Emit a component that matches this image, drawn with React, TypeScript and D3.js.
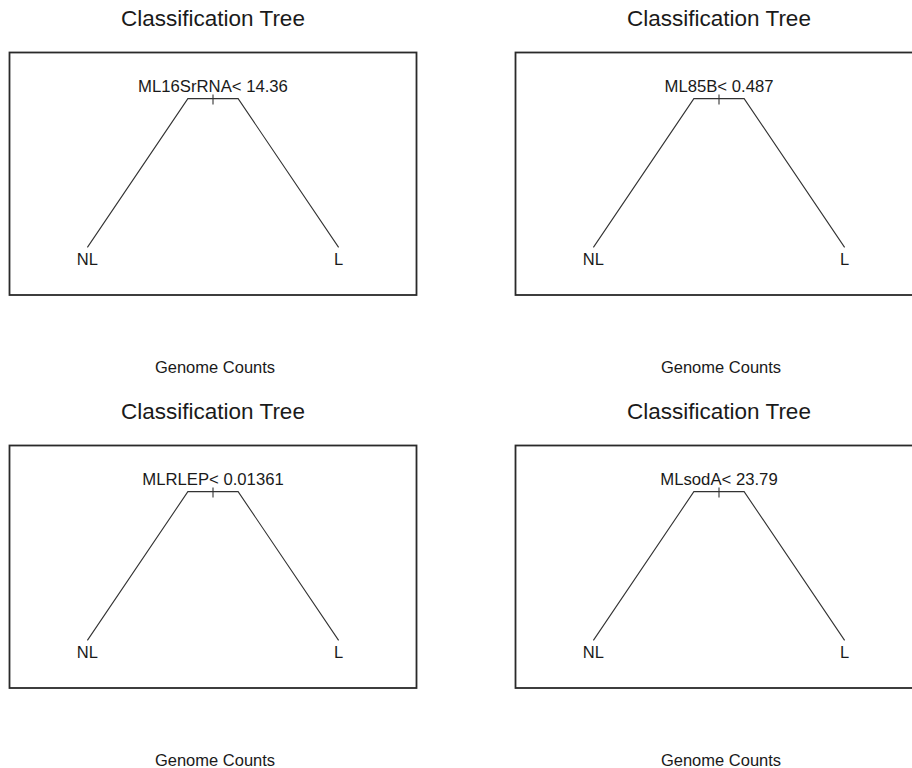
import React from "react";
import * as d3 from "d3";

const titles = ["Classification Tree", "Classification Tree", "Classification Tree", "Classification Tree"];
const splitVars = ["ML16SrRNA", "ML85B", "MLRLEP", "MLsodA"];
const splitValues = ["14.36", "0.487", "0.01361", "23.79"];
const leafLabels = ["NL", "L"];
const leafX = [1, 2];
const rootX = 1.5;
const rootDepth = 1;
const leafDepth = 0;
const xLabel = "Genome Counts";

const W = 912;
const H = 768;
const PANEL_W = 506;
const PANEL_H = 393;
const BOX = { left: 9.5, right: 416.5, top: 52.5, bottom: 295 };
const BRANCH = 0.2;
const FONT = "'Liberation Sans', Arial, Helvetica, sans-serif";
const INK = "#1a1a1a";

function Panel({ idx }: { idx: number }) {
  const col = idx % 2;
  const row = Math.floor(idx / 2);
  const ox = col * PANEL_W;
  const oy = row * PANEL_H;
  const x = d3.scaleLinear().domain([0.69, 2.31]).range([BOX.left, BOX.right]);
  const y = d3.scaleLinear().domain([-0.32, 1.31]).range([BOX.bottom, BOX.top]);
  const line = d3.line<[number, number]>().x((d) => x(d[0])).y((d) => y(d[1]));
  const cx = (BOX.left + BOX.right) / 2;
  return (
    <g transform={`translate(${ox},${oy})`}>
      <text x={cx} y={26} textAnchor="middle" fontFamily={FONT} fontSize={22.5} fill={INK}>
        {titles[idx]}
      </text>
      <rect
        x={BOX.left}
        y={BOX.top}
        width={BOX.right - BOX.left}
        height={BOX.bottom - BOX.top}
        fill="none"
        stroke="#2a2a2a"
        strokeWidth={1.8}
      />
      {leafX.map((lx, i) => {
        const shoulder = rootX + (lx - rootX) * BRANCH;
        const pts: [number, number][] = [
          [rootX, rootDepth],
          [shoulder, rootDepth],
          [lx, leafDepth],
        ];
        return <path key={i} d={line(pts) || ""} fill="none" stroke="#333" strokeWidth={1.1} />;
      })}
      <line x1={x(rootX)} x2={x(rootX)} y1={y(rootDepth) - 4} y2={y(rootDepth) + 6} stroke="#333" strokeWidth={1.1} />
      <text x={x(rootX)} y={y(rootDepth) - 6.6} textAnchor="middle" fontFamily={FONT} fontSize={16.7} fill={INK}>
        {`${splitVars[idx]}< ${splitValues[idx]}`}
      </text>
      {leafX.map((lx, i) => (
        <text key={i} x={x(lx)} y={y(leafDepth) + 18} textAnchor="middle" fontFamily={FONT} fontSize={16.5} fill={INK}>
          {leafLabels[i]}
        </text>
      ))}
      <text x={cx + 2} y={373} textAnchor="middle" fontFamily={FONT} fontSize={16.5} fill={INK}>
        {xLabel}
      </text>
    </g>
  );
}

export default function App() {
  return (
    <svg
      width={W}
      height={H}
      viewBox={`0 0 ${W} ${H}`}
      style={{ position: "absolute", left: 0, top: 0, background: "#fff", overflow: "hidden" }}
    >
      <rect x={0} y={0} width={W} height={H} fill="#fff" />
      {titles.map((_, i) => (
        <Panel key={i} idx={i} />
      ))}
    </svg>
  );
}
